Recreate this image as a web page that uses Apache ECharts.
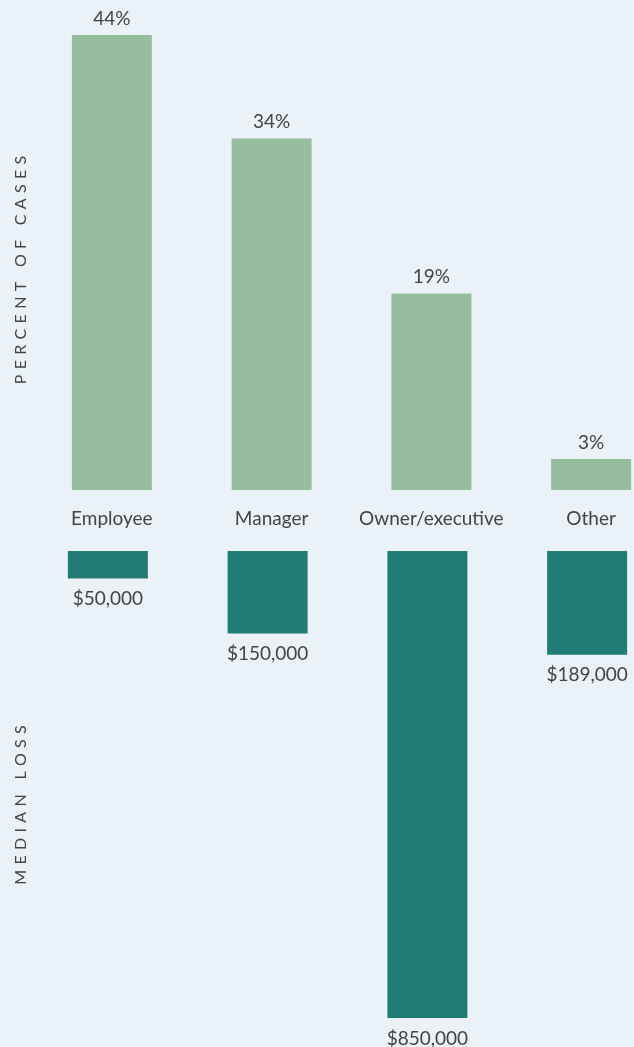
<!DOCTYPE html>
<html>
<head>
<meta charset="utf-8">
<script src="https://cdn.jsdelivr.net/npm/echarts@6/dist/echarts.min.js"></script>
<style>
	html,body{margin:0;padding:0;background:#eaf2f8;}
	#chart{width:634px;height:1047px;}
</style>
</head>
<body>
<div id="chart"></div>
<script>
(function() {
	'use strict';
	var categories = ['Employee','Manager','Owner/executive','Other'];
	var percentCases = [44,34,19,3];
	var medianLoss = [50000,150000,850000,189000];

	var textColor = '#444444';
	var fontFamily = 'Lato, "Open Sans", sans-serif';

	// wide letter spacing on the axis titles
	function spaced(s) {
		return s.split('').join('\u2004');
	}

	function money(v) {
		return '$' + String(v).replace(/\B(?=(\d{3})+(?!\d))/g, ',');
	}

	function sideTitle(text, y) {
		return {
			type: 'text', x: 21, y: y, rotation: Math.PI / 2,
			style: {
				text: spaced(text), fill: textColor, fontSize: 16, fontFamily: fontFamily,
				align: 'center', verticalAlign: 'middle'
			}
		};
	}

	var myChart = echarts.init(document.getElementById('chart'));
	var option = {
		backgroundColor: '#eaf2f8',
		animation: false,
		grid: [
			{left: 32, top: 35, width: 639, height: 455, outerBoundsMode: 'none'},
			{left: 28, top: 551, width: 639, height: 467, outerBoundsMode: 'none'}
		],
		graphic: [
			sideTitle('PERCENT OF CASES', 270),
			sideTitle('MEDIAN LOSS', 805)
		],
		xAxis: [
			{
				type: 'category', gridIndex: 0, data: categories,
				axisLine: {show: false}, axisTick: {show: false},
				axisLabel: {interval: 0, color: textColor, fontSize: 19, fontFamily: fontFamily, margin: 19}
			},
			{
				type: 'category', gridIndex: 1, data: categories,
				axisLine: {show: false}, axisTick: {show: false}, axisLabel: {show: false}
			}
		],
		yAxis: [
			{
				type: 'value', gridIndex: 0, min: 0, max: 44,
				splitLine: {show: false}, axisLabel: {show: false},
				axisLine: {show: false}, axisTick: {show: false}
			},
			{
				type: 'value', gridIndex: 1, min: 0, max: 850000, inverse: true,
				splitLine: {show: false}, axisLabel: {show: false},
				axisLine: {show: false}, axisTick: {show: false}
			}
		],
		series: [
			{
				type: 'bar', xAxisIndex: 0, yAxisIndex: 0, data: percentCases,
				barWidth: 80, itemStyle: {color: '#96be9e'},
				label: {
					show: true, position: 'top', distance: 7,
					color: textColor, fontSize: 19, fontFamily: fontFamily,
					formatter: '{c}%'
				}
			},
			{
				type: 'bar', xAxisIndex: 1, yAxisIndex: 1, data: medianLoss,
				barWidth: 80, itemStyle: {color: '#207c74'},
				label: {
					show: true, position: 'bottom', distance: 11,
					color: textColor, fontSize: 19, fontFamily: fontFamily,
					formatter: function(p) { return money(p.value); }
				}
			}
		]
	};
	myChart.setOption(option);
})();
</script>
</body>
</html>
